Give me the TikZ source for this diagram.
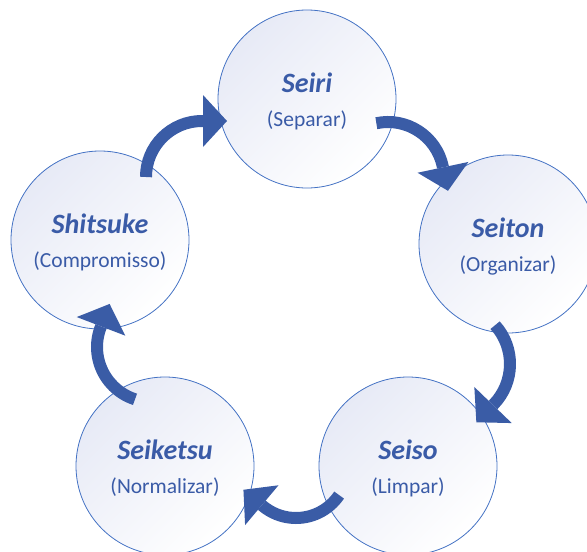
\documentclass[tikz,border=0pt]{standalone}
\usepackage{fontspec}
\setmainfont{Carlito}
\usetikzlibrary{arrows.meta}
\definecolor{ringblue}{RGB}{68,114,196}
\definecolor{wordblue}{RGB}{58,91,167}
\definecolor{arrowblue}{RGB}{58,92,166}
\definecolor{ringtint}{RGB}{231,234,246}
\newcommand{\sword}[1]{{\fontsize{28}{34}\selectfont\bfseries\itshape\rule{0pt}{24pt}#1}}

\begin{document}
\begin{tikzpicture}[x=1pt,y=1pt,
    sphase/.style={circle,draw=ringblue,line width=0.8pt,minimum size=178pt,inner sep=0pt,
      top color=ringtint,bottom color=white,shading angle=45,
      text=wordblue,align=center,font=\fontsize{21.5}{34}\selectfont},
    cyclearrow/.style={arrowblue,line width=12pt,
      -{Triangle[length=24pt,width=52pt,line width=0pt]}}]
    \useasboundingbox (0,0) rectangle (587,-552);
    \clip (0,0) rectangle (587,-552);

    \node[sphase] (seiri) at (307,-99) {\sword{Seiri}\\(Separar)};
    \node[sphase] (seiton) at (508,-244) {\sword{Seiton}\\(Organizar)};
    \node[sphase] (seiso) at (408,-466) {\sword{Seiso}\\(Limpar)};
    \node[sphase] (seiketsu) at (165,-466) {\sword{Seiketsu}\\(Normalizar)};
    \node[sphase] (shitsuke) at (100,-240) {\sword{Shitsuke}\\(Compromisso)};

    % arc centres of the arrows
    \coordinate (c1) at (202,-177);
    \coordinate (c2) at (388,-178);
    \coordinate (c3) at (452,-364);
    \coordinate (c4) at (296,-466);
    \coordinate (c5) at (152,-347);

    \draw[cyclearrow] ([shift={(180:56)}]c1) arc[start angle=180,end angle=90,radius=56] -- ++(0:25);
    \draw[cyclearrow] ([shift={(102:56)}]c2) arc[start angle=102,end angle=12,radius=56] -- ++(-78:25);
    \draw[cyclearrow] ([shift={(42:58)}]c3) arc[start angle=42,end angle=-44,radius=58] -- ++(-134:25);
    \draw[cyclearrow] ([shift={(-34:52)}]c4) arc[start angle=-34,end angle=-130,radius=52] -- ++(140:25);
    \draw[cyclearrow] ([shift={(-108:55)}]c5) arc[start angle=-108,end angle=-201,radius=55] -- ++(69:25);
\end{tikzpicture}
\end{document}
